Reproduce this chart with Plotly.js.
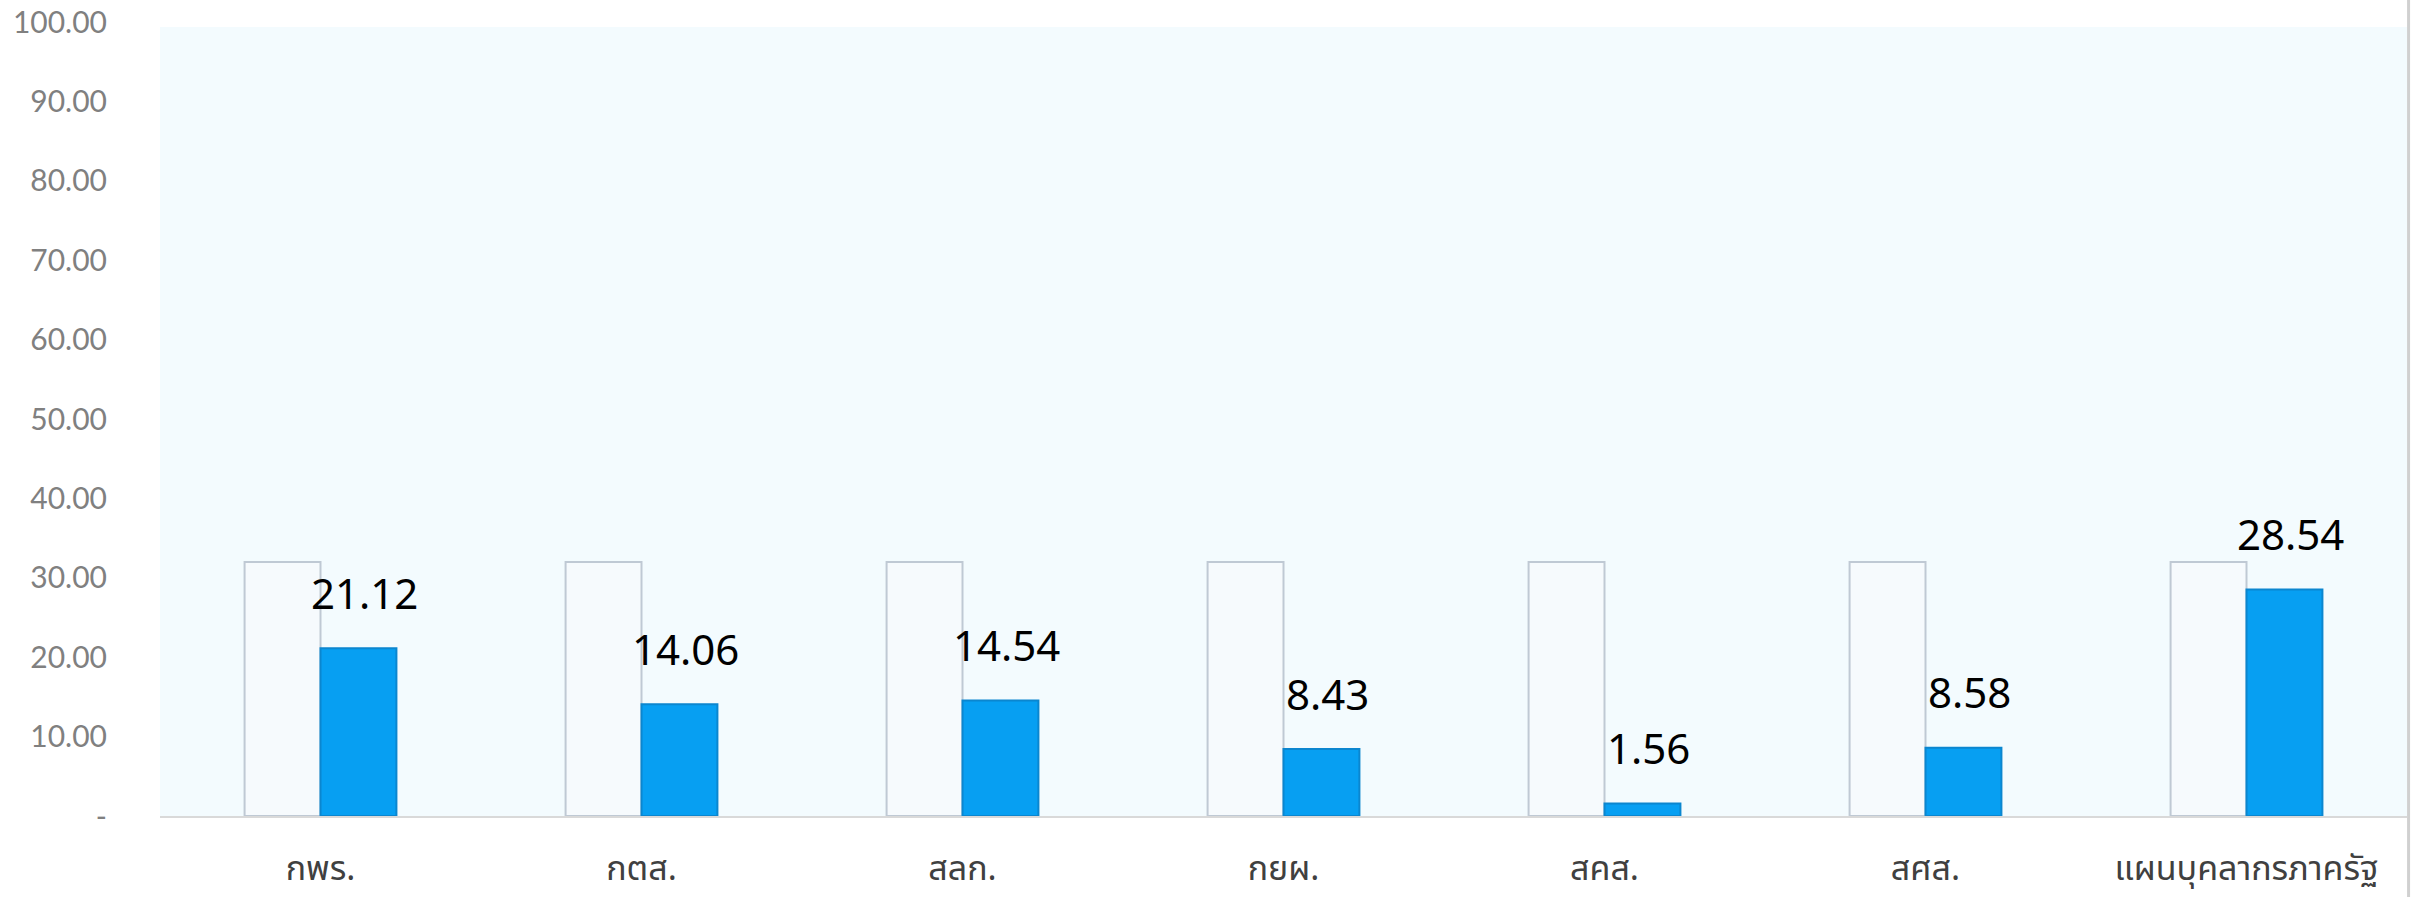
<!DOCTYPE html>
<html>
<head>
<meta charset="utf-8">
<script src="https://cdn.plot.ly/plotly-3.0.1.min.js"></script>
<style>html,body{margin:0;padding:0;background:#fff;}#chart{width:2413px;height:897px;}</style>
</head>
<body>
<div id="chart"></div>
<script>
const categories = ["กพร.", "กตส.", "สลก.", "กยผ.", "สคส.", "สศส.", "แผนบุคลากรภาครัฐ"];
const targetValues = [32, 32, 32, 32, 32, 32, 32];
const actualValues = [21.12, 14.06, 14.54, 8.43, 1.56, 8.58, 28.54];
const yTickVals = [0, 10, 20, 30, 40, 50, 60, 70, 80, 90, 100];
const yTickText = ["-", "10.00", "20.00", "30.00", "40.00", "50.00", "60.00", "70.00", "80.00", "90.00", "100.00"];

const traces = [
  {
    type: "bar", x: categories, y: targetValues, name: "target",
    marker: {color: "#F6FAFD", line: {color: "#BFC9D4", width: 2}},
    hoverinfo: "none"
  },
  {
    type: "bar", x: categories, y: actualValues, name: "actual",
    marker: {color: "#079FF2", line: {color: "#0B86CF", width: 2}},
    hoverinfo: "none"
  }
];

const annotations = categories.map((c, i) => ({
  x: c, y: actualValues[i], xref: "x", yref: "y",
  text: actualValues[i].toFixed(2),
  showarrow: false, xshift: 44, yshift: 56,
  font: {family: "Noto Sans, Open Sans, sans-serif", size: 42, color: "#000000"}
}));

const layout = {
  width: 2413, height: 897,
  margin: {l: 160, r: 6, t: 22, b: 81},
  paper_bgcolor: "#FFFFFF",
  plot_bgcolor: "rgba(0,0,0,0)",
  showlegend: false,
  barmode: "group",
  bargap: 0.527,
  bargroupgap: 0,
  xaxis: {
    showgrid: false, zeroline: false, showline: true, linecolor: "#D9D9D9", linewidth: 2,
    ticks: "", ticklabelstandoff: 21,
    tickfont: {family: "Noto Sans Thai, Noto Sans, sans-serif", size: 34, color: "#404040"}
  },
  yaxis: {
    range: [0, 100], showgrid: false, zeroline: false, showline: false,
    tickvals: yTickVals, ticktext: yTickText, ticks: "", ticklabelstandoff: 52,
    tickfont: {family: "Lato, sans-serif", size: 30, color: "#808080"}
  },
  annotations: annotations,
  shapes: [
    {type: "rect", xref: "paper", yref: "paper", x0: 0, x1: 1, y0: 0, y1: 0.9937,
      fillcolor: "#F3FBFE", line: {width: 0}, layer: "below"},
    {type: "line", xref: "paper", yref: "paper", x0: 1.0007, x1: 1.0007, y0: -0.2, y1: 1.1,
      line: {color: "#D0D0D0", width: 3}}
  ]
};

Plotly.newPlot("chart", traces, layout, {staticPlot: true, displayModeBar: false});
</script>
</body>
</html>
